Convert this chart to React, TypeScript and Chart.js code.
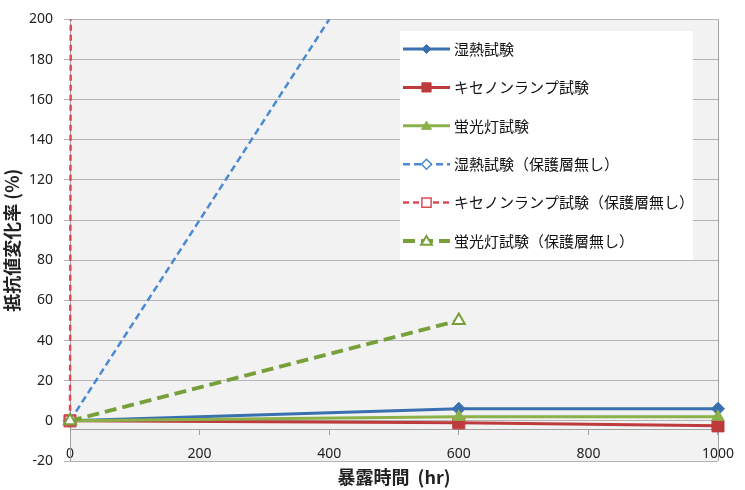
import React, { useEffect, useRef } from 'react';
import { Chart, registerables, LinearScale } from 'chart.js';

// Linear scale that does not clamp pixels to the int16 range, so a very steep
// series keeps its true direction instead of bending at the clamp.
class UnclampedLinearScale extends LinearScale {
  static id = 'linearUnclamped';
  static defaults = (LinearScale as any).defaults;
  getPixelForValue(value: number) {
    const self = this as any;
    if (value === null || value === undefined) return NaN;
    let d = (value - self._startValue) / self._valueRange;
    if (self._reversePixels) d = 1 - d;
    return self._startPixel + d * self._length;
  }
}

Chart.register(...registerables, UnclampedLinearScale);

// ---- data ----
const hours = [0, 600, 1000];
const hoursNoLayer = [0, 600];
const dampHeat = [0, 6, 6];
const xenon = [0, -1, -2.5];
const fluorescent = [0, 2, 2];
const dampHeatNoLayer = [0, 300];
const xenonNoLayer = [0, 100000];
const fluorescentNoLayer = [0, 50];
const seriesNames = [
  '湿熱試験',
  'キセノンランプ試験',
  '蛍光灯試験',
  '湿熱試験（保護層無し）',
  'キセノンランプ試験（保護層無し）',
  '蛍光灯試験（保護層無し）',
];
const xMin = 0, xMax = 1000, xStep = 200;
const yMin = -20, yMax = 200, yStep = 20;
const xAxisCross = -4.5;
const xTitle = '暴露時間  (hr)';
const yTitle = '抵抗値変化率 (%)';

const CJK = '"Noto Sans CJK JP", "Noto Sans", sans-serif';
const NUM = '"Noto Sans", "Open Sans", sans-serif';
const GRID = '#B4B4B4';
const AXIS = '#A0A0A0';
const TEXT = '#222222';

type Style = {
  color: string; width: number; dash: number[]; point: string;
  radius: number; fill: string; pw: number; legendR: number;
};
const styles: Style[] = [
  { color: '#3A6FB0', width: 3, dash: [], point: 'rectRot', radius: 6.5, fill: '#3A6FB0', pw: 1, legendR: 4.5 },
  { color: '#BE3B3D', width: 3, dash: [], point: 'rect', radius: 8.5, fill: '#BE3B3D', pw: 1, legendR: 6.5 },
  { color: '#8AB14A', width: 3, dash: [], point: 'triangle', radius: 7, fill: '#8AB14A', pw: 1, legendR: 5.5 },
  { color: '#4A8AD2', width: 2.5, dash: [7, 4], point: 'rectRot', radius: 5, fill: '#FFFFFF', pw: 1.5, legendR: 5 },
  { color: '#DC4A55', width: 2.5, dash: [6, 4], point: 'rect', radius: 7, fill: '#FFFFFF', pw: 1.5, legendR: 6.5 },
  { color: '#77A03A', width: 4, dash: [12, 6], point: 'triangle', radius: 7, fill: '#FFFFFF', pw: 2, legendR: 6 },
];

function toXY(xs: number[], ys: number[]) {
  return xs.map((x, i) => ({ x, y: ys[i] }));
}

function drawMarker(ctx: CanvasRenderingContext2D, style: string, x: number, y: number, r: number, fill: string, stroke: string, lw: number) {
  ctx.save();
  ctx.setLineDash([]);
  ctx.beginPath();
  if (style === 'rectRot') {
    ctx.moveTo(x, y - r); ctx.lineTo(x + r, y); ctx.lineTo(x, y + r); ctx.lineTo(x - r, y); ctx.closePath();
  } else if (style === 'rect') {
    const s = r * Math.SQRT1_2;
    ctx.rect(x - s, y - s, 2 * s, 2 * s);
  } else {
    const h = r * 0.85;
    ctx.moveTo(x, y - h); ctx.lineTo(x + r * 0.9, y + h * 0.75); ctx.lineTo(x - r * 0.9, y + h * 0.75); ctx.closePath();
  }
  ctx.fillStyle = fill; ctx.fill();
  ctx.lineWidth = lw; ctx.strokeStyle = stroke; ctx.stroke();
  ctx.restore();
}

const plotFrame = {
  id: 'plotFrame',
  beforeDraw(chart: any) {
    const { ctx, chartArea: a } = chart;
    ctx.save();
    ctx.fillStyle = '#F2F2F2';
    ctx.fillRect(a.left, a.top, a.right - a.left, a.bottom - a.top);
    ctx.restore();
  },
  beforeDatasetsDraw(chart: any) {
    const { ctx, chartArea: a } = chart;
    ctx.save();
    ctx.strokeStyle = AXIS;
    ctx.lineWidth = 1;
    ctx.beginPath();
    ctx.moveTo(Math.round(a.right) + 0.5, a.top);
    ctx.lineTo(Math.round(a.right) + 0.5, a.bottom);
    ctx.stroke();
    ctx.restore();
  },
};

const LEGEND = { left: 400, top: 31, width: 293, height: 229, firstRow: 49, rowGap: 38.4, lineStart: 403, lineEnd: 450, textX: 454 };

const innerLegend = {
  id: 'innerLegend',
  afterDraw(chart: any) {
    const { ctx } = chart;
    ctx.save();
    ctx.fillStyle = '#FFFFFF';
    ctx.fillRect(LEGEND.left, LEGEND.top, LEGEND.width, LEGEND.height);
    seriesNames.forEach((name, i) => {
      const s = styles[i];
      const y = LEGEND.firstRow + i * LEGEND.rowGap;
      ctx.save();
      ctx.strokeStyle = s.color;
      ctx.lineWidth = s.width;
      ctx.setLineDash(s.dash);
      ctx.beginPath();
      ctx.moveTo(LEGEND.lineStart, y);
      ctx.lineTo(LEGEND.lineEnd, y);
      ctx.stroke();
      ctx.restore();
      drawMarker(ctx, s.point, (LEGEND.lineStart + LEGEND.lineEnd) / 2, y, s.legendR, s.fill, s.color, s.pw);
      ctx.fillStyle = '#111111';
      ctx.font = `15px ${CJK}`;
      ctx.textBaseline = 'middle';
      ctx.textAlign = 'left';
      ctx.fillText(name, LEGEND.textX, y);
    });
    ctx.restore();
  },
};

export default function App() {
  const ref = useRef<HTMLCanvasElement>(null);
  useEffect(() => {
    if (!ref.current) return;
    const seriesData = [
      toXY(hours, dampHeat),
      toXY(hours, xenon),
      toXY(hours, fluorescent),
      toXY(hoursNoLayer, dampHeatNoLayer),
      toXY(hoursNoLayer, xenonNoLayer),
      toXY(hoursNoLayer, fluorescentNoLayer),
    ];
    const n = seriesNames.length;
    const chart = new Chart(ref.current, {
      type: 'line',
      data: {
        datasets: seriesNames.map((label, i) => {
          const s = styles[i];
          return {
            label,
            data: seriesData[i],
            borderColor: s.color,
            borderWidth: s.width,
            borderDash: s.dash,
            pointStyle: s.point,
            pointRadius: s.radius,
            pointBackgroundColor: s.fill,
            pointBorderColor: s.color,
            pointBorderWidth: s.pw,
            tension: 0,
            fill: false,
            order: n - 1 - i,
            clip: { left: 12, right: 12, top: 0, bottom: 0 },
          } as any;
        }),
      },
      options: {
        responsive: false,
        animation: false,
        events: [],
        layout: { padding: { left: 0, right: 21, top: 8, bottom: 29 } },
        plugins: { legend: { display: false }, tooltip: { enabled: false } },
        scales: {
          x: {
            type: 'linear',
            min: xMin,
            max: xMax,
            position: { y: xAxisCross } as any,
            ticks: {
              stepSize: xStep, color: TEXT, font: { family: NUM, size: 14 }, padding: 11, maxRotation: 0,
              callback: (v: any) => String(v),
            },
            grid: { drawOnChartArea: false, drawTicks: true, tickLength: 5, color: AXIS },
            border: { display: true, color: AXIS },
            title: { display: true, text: xTitle, color: TEXT, font: { family: CJK, size: 18, weight: 'bold' }, padding: { top: -7, bottom: 0 } },
          },
          y: {
            type: 'linearUnclamped',
            min: yMin,
            max: yMax,
            ticks: { stepSize: yStep, color: TEXT, font: { family: NUM, size: 14 }, padding: 11, callback: (v: any) => String(v) },
            grid: { color: GRID, tickLength: 6, lineWidth: 1 },
            border: { display: true, color: AXIS },
            title: { display: true, text: yTitle, color: TEXT, font: { family: CJK, size: 18, weight: 'bold' }, padding: { top: 1, bottom: 0 } },
            afterFit: (scale: any) => { scale.width = 70; },
          },
        },
      } as any,
      plugins: [plotFrame, innerLegend],
    });
    return () => chart.destroy();
  }, []);
  return (
    <div style={{ position: 'fixed', left: 0, top: 0, width: 745, height: 490, background: '#FFFFFF' }}>
      <canvas ref={ref} width={745} height={490} />
    </div>
  );
}
